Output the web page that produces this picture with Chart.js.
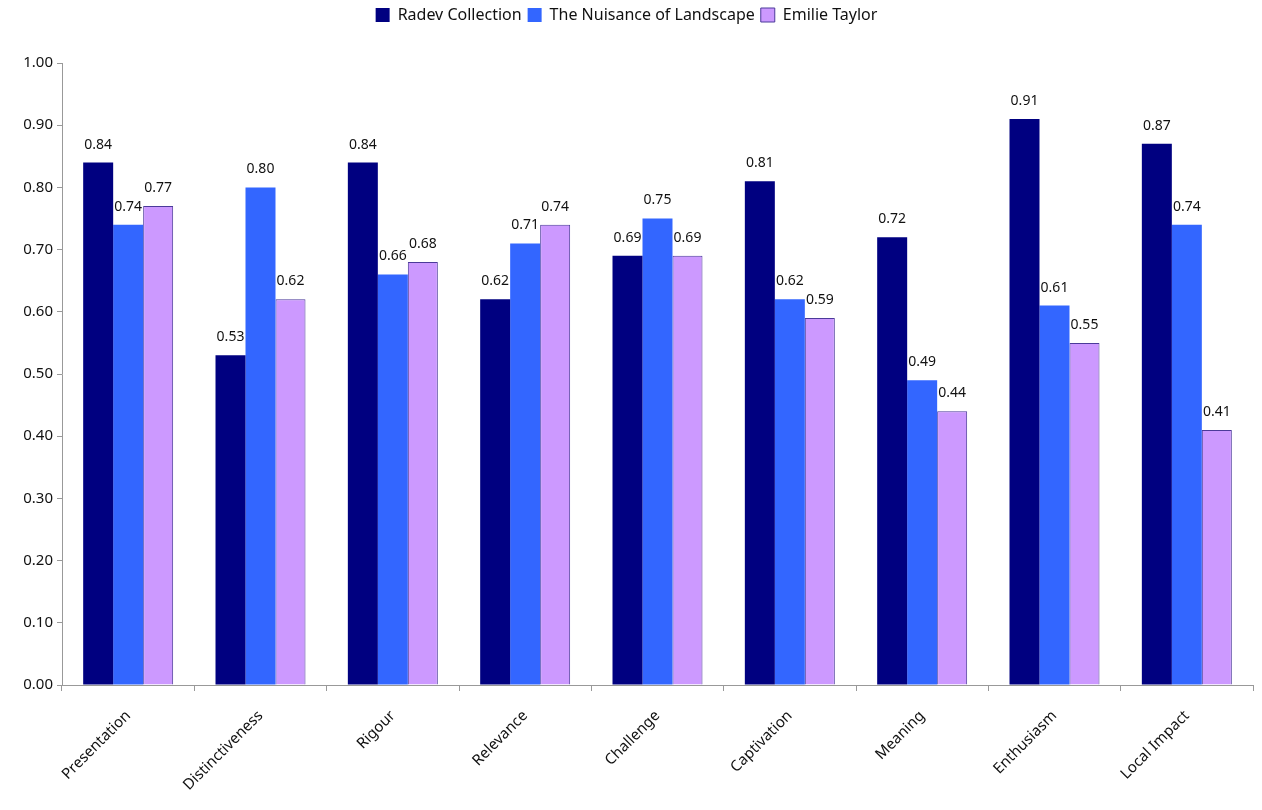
<!DOCTYPE html>
<html>
<head>
<meta charset="utf-8">
<script src="https://cdn.jsdelivr.net/npm/chart.js@4.4.1/dist/chart.umd.min.js"></script>
<style>
  html, body { margin: 0; padding: 0; background: #fff; }
  #wrap { width: 1262px; height: 810px; }
</style>
</head>
<body>
<div id="wrap"><canvas id="chart"></canvas></div>
<script>
const categories = ['Presentation', 'Distinctiveness', 'Rigour', 'Relevance', 'Challenge',
  'Captivation', 'Meaning', 'Enthusiasm', 'Local Impact'];

const radev = [0.84, 0.53, 0.84, 0.62, 0.69, 0.81, 0.72, 0.91, 0.87];
const nuisance = [0.74, 0.80, 0.66, 0.71, 0.75, 0.62, 0.49, 0.61, 0.74];
const emilie = [0.77, 0.62, 0.68, 0.74, 0.69, 0.59, 0.44, 0.55, 0.41];

const font = "'Noto Sans', 'Open Sans', sans-serif";

// value labels above each bar
const valueLabels = {
  id: 'valueLabels',
  afterDatasetsDraw(chart) {
    const ctx = chart.ctx;
    ctx.save();
    ctx.font = '14px ' + font;
    ctx.fillStyle = '#111';
    ctx.textAlign = 'center';
    ctx.textBaseline = 'middle';
    chart.data.datasets.forEach((ds, i) => {
      chart.getDatasetMeta(i).data.forEach((bar, j) => {
        ctx.fillText(ds.data[j].toFixed(2), bar.x, bar.y - 18);
      });
    });
    ctx.restore();
  }
};

// leave more room between legend and plot
const legendGap = {
  id: 'legendGap',
  beforeInit(chart) {
    const fit = chart.legend.fit;
    chart.legend.fit = function () {
      fit.call(this);
      this.height += 30;
    };
  }
};

const ctx = document.getElementById('chart');
const chart = new Chart(ctx, {
  type: 'bar',
  data: {
    labels: categories,
    datasets: [
      {
        label: 'Radev Collection',
        data: radev,
        backgroundColor: '#000080',
        borderColor: '#000080',
        borderWidth: 0
      },
      {
        label: 'The Nuisance of Landscape',
        data: nuisance,
        backgroundColor: '#3366FF',
        borderColor: '#3366FF',
        borderWidth: 0
      },
      {
        label: 'Emilie Taylor',
        data: emilie,
        backgroundColor: '#CC99FF',
        borderColor: '#4b3a9a',
        borderWidth: 1
      }
    ]
  },
  options: {
    responsive: true,
    maintainAspectRatio: false,
    animation: false,
    layout: { padding: { top: 1, right: 9, left: 0, bottom: 0 } },
    categoryPercentage: 0.68,
    barPercentage: 1.0,
    plugins: {
      legend: {
        position: 'top',
        labels: {
          font: { family: font, size: 16 },
          color: '#111',
          boxWidth: 14,
          boxHeight: 14,
          padding: 6
        },
        onClick: null
      },
      tooltip: { enabled: false }
    },
    scales: {
      x: {
        grid: {
          offset: true,
          drawOnChartArea: false,
          color: '#999',
          tickLength: 6
        },
        border: { color: '#999' },
        ticks: {
          font: { family: font, size: 15 },
          color: '#111',
          padding: 16,
          maxRotation: 45,
          minRotation: 45
        },
        afterFit(scale) { scale.height = 125; }
      },
      y: {
        min: 0,
        max: 1,
        grid: {
          drawOnChartArea: false,
          color: '#999',
          tickLength: 5
        },
        border: { color: '#999' },
        ticks: {
          stepSize: 0.1,
          font: { family: font, size: 15 },
          color: '#111',
          padding: 4,
          callback: v => v.toFixed(2)
        },
        afterFit(scale) { scale.width = 62; }
      }
    }
  },
  plugins: [valueLabels, legendGap]
});
</script>
</body>
</html>
